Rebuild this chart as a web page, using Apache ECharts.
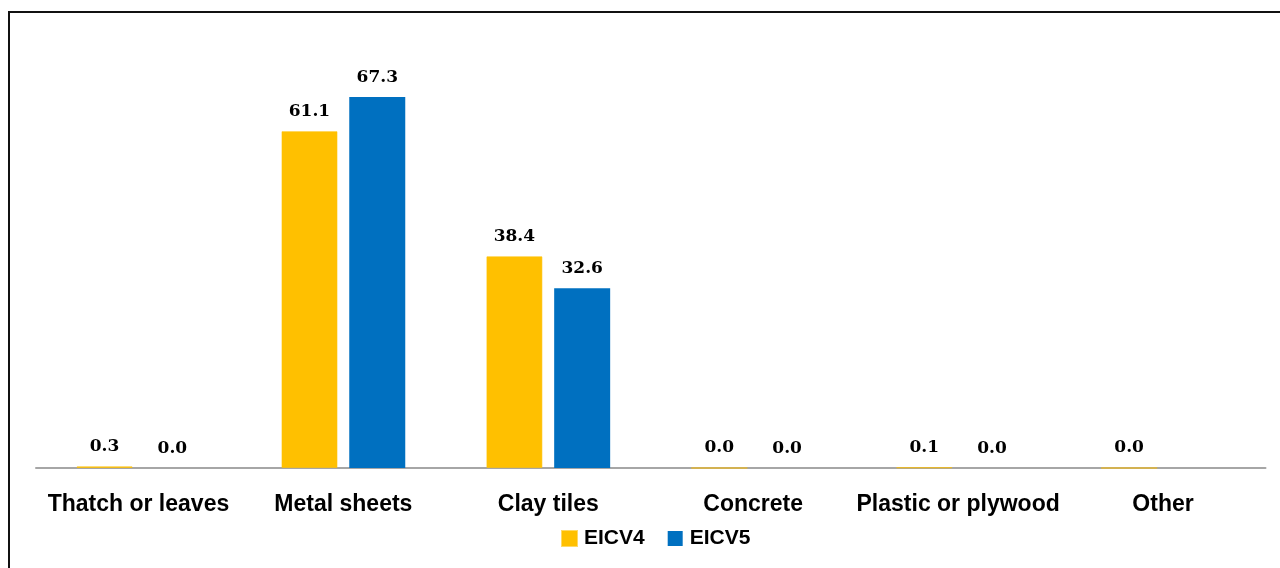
<!DOCTYPE html>
<html>
<head>
<meta charset="utf-8">
<script src="https://cdn.jsdelivr.net/npm/echarts@6/dist/echarts.min.js"></script>
<style>html,body{margin:0;padding:0;background:#fff;}#c{width:1280px;height:568px;}</style>
</head>
<body>
<div id="c"></div>
<script>
const categories = ['Thatch or leaves', 'Metal sheets', 'Clay tiles', 'Concrete', 'Plastic or plywood', 'Other'];
const eicv4 = [0.3, 61.1, 38.4, 0.0, 0.1, 0.0];
const eicv5 = [0.0, 67.3, 32.6, 0.0, 0.0, '-'];
const seriesNames = ['EICV4', 'EICV5'];

const chart = echarts.init(document.getElementById('c'));
const labelStyle = {
  show: true,
  position: 'top',
  distance: 11,
  fontFamily: 'DejaVu Serif',
  fontWeight: 'bold',
  fontSize: 17,
  color: '#000',
  formatter: p => (typeof p.value === 'number' ? p.value.toFixed(1) : '')
};
chart.setOption({
  animation: false,
  graphic: [{
    type: 'rect',
    shape: { x: 9, y: 12, width: 1300, height: 600 },
    style: { fill: 'none', stroke: '#111', lineWidth: 2 },
    silent: true
  }],
  legend: {
    data: seriesNames,
    bottom: 14,
    left: 556,
    itemWidth: 15,
    itemHeight: 15,
    itemGap: 23,
    icon: 'rect',
    textStyle: { fontFamily: 'Liberation Sans', fontWeight: 'bold', fontSize: 21, color: '#000', padding: [0, 0, 0, 2] }
  },
  grid: { left: 36, right: 14.5, top: 27, bottom: 100, containLabel: false },
  xAxis: {
    type: 'category',
    data: categories,
    axisTick: { show: false },
    axisLine: { lineStyle: { color: '#A6A6A6', width: 2 } },
    axisLabel: { margin: 25, fontFamily: 'Liberation Sans', fontWeight: 'bold', fontSize: 23, color: '#000', interval: 0 }
  },
  yAxis: { type: 'value', min: 0, max: 80, show: false, splitLine: { show: false } },
  series: [
    { name: seriesNames[0], type: 'bar', data: eicv4, barWidth: 56, barGap: '21%',
      itemStyle: { color: '#FFC000', borderColor: 'rgba(255,192,0,0.6)', borderWidth: 1 }, label: labelStyle },
    { name: seriesNames[1], type: 'bar', data: eicv5, barWidth: 56, barGap: '21%',
      itemStyle: { color: '#0070C0' }, label: labelStyle }
  ]
});
</script>
</body>
</html>
